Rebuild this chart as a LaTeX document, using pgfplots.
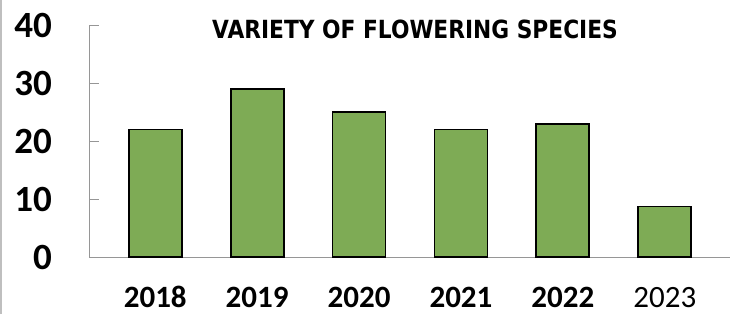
\documentclass[border=0pt]{standalone}
\usepackage{fontspec}
\setmainfont{Carlito}
\newfontfamily\titlefont{DejaVu Sans}
\usepackage{pgfplots}
\pgfplotsset{compat=1.18}
\definecolor{bargreen}{RGB}{126,171,85}
\definecolor{axgray}{RGB}{150,150,150}
\begin{document}
\begin{tikzpicture}[x=1pt,y=1pt]
\path[use as bounding box] (0,0) rectangle (742,314);
\fill[white] (0,0) rectangle (742,314);
\draw[gray!50, line width=2.5pt] (1.2,0) -- (1.2,314);
\begin{axis}[
  at={(89pt,57pt)}, anchor=south west,
  scale only axis, width=641pt, height=232pt,
  xmin=-0.65, xmax=5.64, ymin=0, ymax=40,
  axis x line*=bottom, axis y line*=left,
  axis line style={draw=axgray, line width=0.9pt},
  ytick={0,10,20,30,40},
  xtick={0,1,2,3,4,5},
  xticklabels={\textbf{2018},\textbf{2019},\textbf{2020},\textbf{2021},\textbf{2022},2023},
  x tick style={draw=none},
  y tick style={draw=axgray, line width=0.9pt},
  major tick length=10pt,
  ytick align=inside,
  yticklabel style={anchor=east, inner sep=0pt, xshift=-37pt, font=\fontsize{37}{40}\selectfont\bfseries},
  xticklabel style={anchor=base, inner sep=0pt, yshift=-40pt, font=\fontsize{31}{34}\selectfont},
  /pgf/number format/assume math mode=true,
  ybar, bar width=53pt,
  clip=false,
]
\addplot[fill=bargreen, draw=black, line width=1.8pt] coordinates {(0,22) (1,29) (2,25) (3,22) (4,23) (5,8.7)};
\end{axis}
\node[anchor=center, inner sep=0pt] at (415,285) {\scalebox{0.87}[1]{\titlefont\bfseries\fontsize{25}{28}\selectfont VARIETY OF FLOWERING SPECIES}};
\end{tikzpicture}
\end{document}
